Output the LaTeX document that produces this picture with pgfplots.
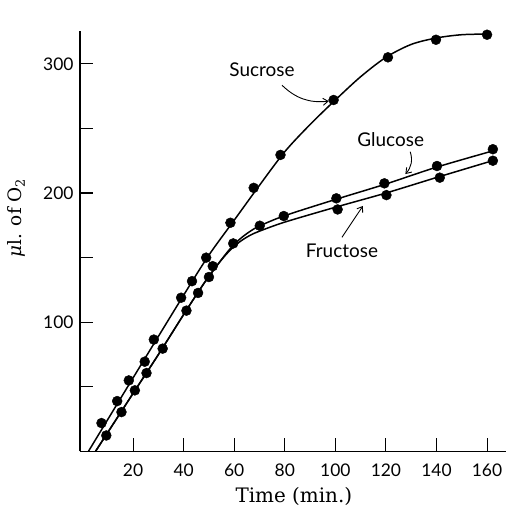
\documentclass[border=0pt]{standalone}
\usepackage{pgfplots}
\pgfplotsset{compat=1.18}
\usepackage{fontspec}
\setmainfont{DejaVu Serif}
\newfontfamily\gill{Lato}
\usetikzlibrary{arrows.meta}
\begin{document}
\begin{tikzpicture}[x=1bp,y=1bp]
\path[use as bounding box] (0,0) rectangle (506,512);
\begin{axis}[
  at={(80bp,60.5bp)}, anchor=south west,
  scale only axis, width=426bp, height=420bp,
  xmin=-1, xmax=167.5, ymin=0, ymax=325,
  axis x line*=bottom, axis y line*=left,
  x axis line style={-, line width=1.3pt},
  y axis line style={-, line width=1.3pt},
  xtick={20,40,...,160}, xticklabels={20,40,60,80,100,120,140,160},
  ytick={50,100,...,300}, yticklabels={,100,,200,,300},
  tick align=inside, major tick length=13bp,
  tick style={line width=1.1pt, black},
  ticklabel style={font=\gill\fontsize{17.5}{20}\selectfont},
  xticklabel style={yshift=-9bp},
  yticklabel style={xshift=-3bp},
  xlabel={Time (min.)},
  xlabel style={at={(axis description cs:0.502,-0.106)}, anchor=center, font=\fontsize{20}{22}\selectfont},
  ylabel={{\itshape μ}l. of O\textsubscript{2}},
  ylabel style={at={(axis description cs:-0.150,0.556)}, anchor=center, rotate=0, font=\fontsize{18.5}{20}\selectfont},
  clip=false,
]
% fitted curves
\addplot[black, line width=1.5pt, smooth, no marks] coordinates {
 (2.3,0) (20,57) (40,121) (50,152) (60,179) (70,206) (80,232) (90,253) (100,272) (110,290) (120,305) (130,315) (140,320) (150,322.5) (160,323)};
\addplot[black, line width=1.5pt, smooth, no marks] coordinates {
 (5.1,0) (20,45) (30,75) (40,106) (48,130) (54,146) (58,156) (62,164) (66,170) (70,174.5) (80,182.5) (100,195) (120,207) (140,220) (163,233)};
\addplot[black, line width=1.5pt, smooth, no marks] coordinates {
 (5.1,0) (20,45) (30,75) (40,106) (48,130) (54,146) (58,155) (62,162) (66,167) (70,170.5) (80,177.5) (100,189) (120,200) (140,212) (163,225.5)};
% sucrose points
\addplot[only marks, mark=*, mark size=5pt, black] coordinates {
 (7.5,22) (13.7,39) (18.3,55) (24.6,69.5) (28.2,86.6) (39,119) (43.3,131.8) (48.9,150)
 (58.5,177) (67.7,204) (78.3,229.5) (99.3,272) (120.8,305) (139.8,318.6) (160,322.5)};
% glucose points
\addplot[only marks, mark=*, mark size=5pt, black] coordinates {
 (9.4,12.4) (15.4,30.5) (20.7,47.3) (25.3,60.7) (31.7,79.6) (41.1,109) (45.7,122.7) (50,135) (51.5,143.4)
 (59.6,161) (70.1,174.7) (79.6,182.2) (100.4,195.9) (119.4,207.5) (140.2,220.9) (162.3,233.9)};
% fructose points
\addplot[only marks, mark=*, mark size=5pt, black] coordinates {
 (100.9,187.3) (120.2,198.4) (141.3,211.9) (162.3,225)};
% annotations
\node[font=\gill\fontsize{19}{22}\selectfont] at (axis cs:71.0,295.8) {Sucrose};
\draw[line width=0.9pt, -{Straight Barb[length=5pt,width=7pt]}] (axis cs:78.9,283.4) to[bend right=25] (axis cs:97.4,271.1);
\node[font=\gill\fontsize{19}{22}\selectfont] at (axis cs:121.9,241.7) {Glucose};
\draw[line width=0.9pt, -{Straight Barb[length=5pt,width=7pt]}] (axis cs:129.6,232) to[bend left=30] (axis cs:127.7,214.7);
\node[font=\gill\fontsize{19}{22}\selectfont] at (axis cs:102.6,155.2) {Fructose};
\draw[line width=0.9pt, -{Straight Barb[length=5pt,width=7pt]}] (axis cs:102.6,165.7) -- (axis cs:110.9,190);
\end{axis}
\end{tikzpicture}
\end{document}
